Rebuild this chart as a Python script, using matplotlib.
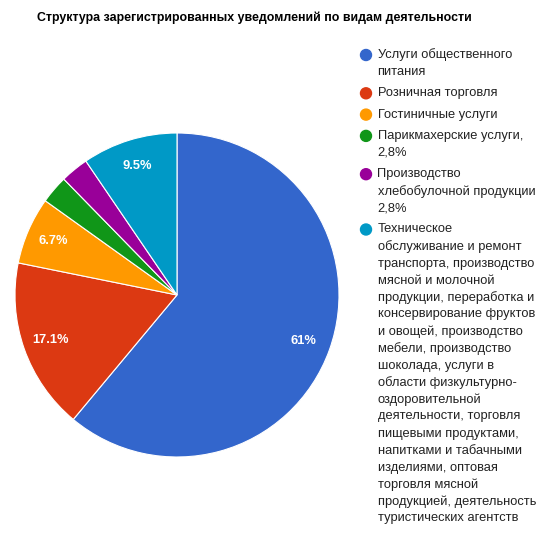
import matplotlib.pyplot as plt
from matplotlib.patches import Circle

plt.rcParams['font.family'] = ['Liberation Sans', 'DejaVu Sans']

# данные
values = [61, 17.1, 6.7, 2.8, 2.8, 9.5]
pct_labels = ['61%', '17.1%', '6.7%', '', '', '9.5%']
colors = ['#3366cc', '#dc3912', '#ff9900', '#109618', '#990099', '#0099c6']
legend_labels = [
    'Услуги общественного\nпитания',
    'Розничная торговля',
    'Гостиничные услуги',
    'Парикмахерские услуги,\n2,8%',
    'Производство\nхлебобулочной продукции\n2,8%',
    'Техническое\nобслуживание и ремонт\nтранспорта, производство\nмясной и молочной\n'
    'продукции, переработка и\nконсервирование фруктов\nи овощей, производство\n'
    'мебели, производство\nшоколада, услуги в\nобласти физкультурно-\n'
    'оздоровительной\nдеятельности, торговля\nпищевыми продуктами,\n'
    'напитками и табачными\nизделиями, оптовая\nторговля мясной\n'
    'продукцией, деятельность\nтуристических агентств',
]
title = 'Структура зарегистрированных уведомлений по видам деятельности'

W = H = 540
fig = plt.figure(figsize=(W / 100, H / 100), dpi=100)

def fx(x):
    return x / W

def fy(y):
    return 1 - y / H

# круг: центр (177, 295), радиус 162 пикселя
cx, cy, r = 177, 295, 162
ax = fig.add_axes([fx(cx - r), fy(cy + r), 2 * r / W, 2 * r / H])
wedges, texts, autotexts = ax.pie(
    values, colors=colors, startangle=90, counterclock=False,
    autopct='%1.1f%%', pctdistance=0.83,
    wedgeprops=dict(edgecolor='white', linewidth=0.8),
    textprops=dict(color='white', fontsize=9.3, fontweight='bold'))
for t, s in zip(autotexts, pct_labels):
    t.set_text(s)
ax.set_xlim(-1, 1)
ax.set_ylim(-1, 1)
ax.set_aspect('equal')
ax.axis('off')

fig.text(fx(37), fy(18), title, fontsize=8.95, fontweight='bold',
         ha='left', va='center', color='#000000')

# легенда
line_h = 17
gap = 21.3
y = 55
lax = fig.add_axes([0, 0, 1, 1], facecolor='none')
lax.set_xlim(0, W)
lax.set_ylim(H, 0)
lax.axis('off')
for lab, col in zip(legend_labels, colors):
    lax.add_patch(Circle((366, y), 5.5, color=col))
    lines = lab.split('\n')
    for i, ln in enumerate(lines):
        lax.text(377.5, y + i * line_h, ln, fontsize=9.3, color='#222222',
                 ha='left', va='center')
    y += (len(lines) - 1) * line_h + gap

fig.savefig('out.png', dpi=100)
